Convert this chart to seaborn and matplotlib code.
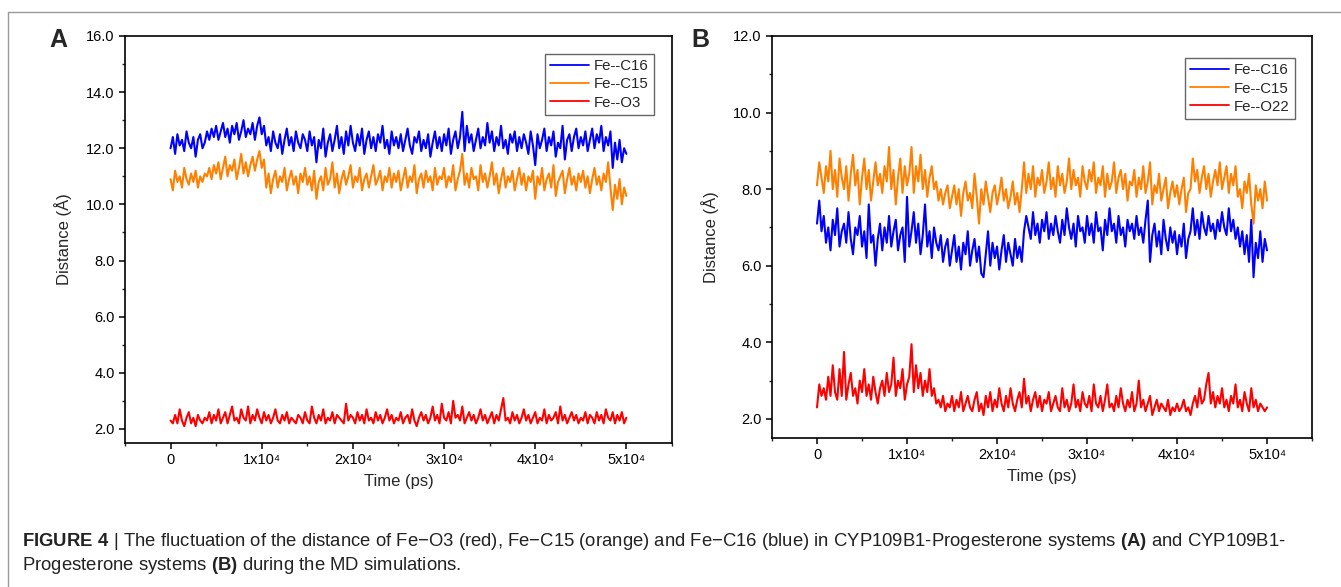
import numpy as np
import pandas as pd
import matplotlib
matplotlib.use("Agg")
import matplotlib.pyplot as plt
import seaborn as sns
from matplotlib.lines import Line2D
from matplotlib.ticker import MultipleLocator, FixedLocator, FixedFormatter, FormatStrFormatter

# sampled every 250 ps, 0 .. 50000 ps
time_ps = np.arange(0, 50001, 250)

a_fe_c16 = [
    12.0, 12.4, 11.8, 12.5, 12.1, 12.3, 11.9, 12.6, 12.2, 12.0, 12.4, 11.7, 12.3, 12.5, 12.0, 12.2, 12.6, 12.3, 12.7, 12.4,
    12.8, 12.3, 12.6, 12.9, 12.4, 12.7, 12.2, 12.8, 12.5, 12.9, 12.3, 12.6, 13.0, 12.4, 12.7, 12.5, 12.9, 12.3, 12.8, 13.1,
    12.5, 12.8, 12.1, 12.4, 11.9, 12.6, 12.2, 12.0, 12.5, 11.8, 12.3, 12.7, 12.1, 12.4, 11.9, 12.6, 12.2, 12.0, 12.5, 12.3,
    11.9, 12.6, 12.1, 12.4, 11.5, 12.3, 12.0, 12.7, 11.7, 12.2, 12.5, 11.9, 12.3, 12.8, 12.0, 12.4, 11.8, 12.6, 12.1, 12.8,
    12.2, 11.9, 12.5, 12.1, 12.7, 11.8, 12.3, 12.6, 12.0, 12.4, 11.9, 12.5, 12.2, 12.8, 12.0, 12.3, 11.8, 12.6, 12.1, 12.4,
    12.0, 12.5, 11.9, 12.3, 12.7, 12.1, 11.8, 12.4, 12.2, 12.6, 11.9, 12.3, 12.0, 12.5, 11.7, 12.2, 12.6, 12.0, 12.4, 11.9,
    12.5, 12.1, 12.7, 11.8, 12.3, 12.6, 12.0, 12.4, 13.3, 11.9, 12.8, 12.2, 12.5, 11.9, 12.3, 12.7, 12.0, 12.4, 12.1, 12.9,
    12.2, 12.6, 11.9, 12.4, 12.1, 12.8, 12.0, 12.3, 11.8, 12.5, 12.2, 12.6, 11.9, 12.4, 12.0, 12.5, 12.2, 11.8, 12.6, 12.1,
    11.4, 12.5, 12.0, 12.3, 12.7, 11.9, 12.4, 12.1, 12.6, 11.7, 12.2, 12.0, 12.8, 11.6, 12.3, 12.5, 11.9, 12.4, 12.7, 12.0,
    12.4, 12.1, 12.6, 11.9, 12.3, 12.7, 12.0, 12.5, 12.2, 12.8, 11.9, 12.4, 12.1, 12.6, 11.3, 12.2, 11.6, 12.3, 11.5, 12.0,
    11.8,
]
a_fe_c15 = [
    10.9, 10.5, 11.2, 10.8, 11.0, 10.6, 11.3, 10.9, 10.7, 11.1, 10.8, 11.2, 10.6, 11.0, 10.8, 11.1, 11.0, 11.3, 10.9, 11.4,
    11.1, 11.5, 10.9, 11.3, 11.7, 11.0, 11.4, 11.2, 11.6, 10.9, 11.3, 11.8, 11.1, 11.5, 11.0, 11.4, 11.7, 11.2, 11.6, 11.9,
    11.3, 11.6, 10.6, 11.1, 10.4, 10.9, 11.2, 10.6, 11.0, 10.8, 11.3, 10.5, 10.9, 11.2, 10.7, 11.0, 10.4, 11.1, 10.8, 11.3,
    10.7, 11.0, 10.5, 11.2, 10.2, 10.8, 11.0, 10.5, 11.3, 10.7, 10.9, 11.5, 10.6, 11.1, 10.4, 10.9, 11.2, 10.7, 11.0, 11.4,
    10.6, 11.0, 10.8, 11.3, 10.5, 10.9, 11.1, 10.6, 11.0, 11.4, 10.7, 10.9, 11.2, 10.5, 11.0, 10.8, 11.3, 10.6, 11.1, 10.8,
    11.2, 10.5, 10.9, 11.3, 10.6, 11.0, 10.8, 11.4, 10.4, 10.9, 11.1, 10.6, 11.2, 10.8, 11.0, 10.5, 11.3, 10.7, 11.0, 10.9,
    11.3, 10.6, 11.0, 10.8, 11.4, 10.5, 10.9, 11.2, 11.8, 10.7, 11.1, 10.6, 11.3, 10.9, 11.0, 10.5, 11.4, 10.8, 11.1, 10.6,
    11.0, 11.5, 10.7, 11.1, 10.4, 10.9, 11.3, 10.6, 11.0, 10.8, 11.2, 10.5, 10.9, 11.3, 10.7, 11.1, 10.5, 11.0, 10.8, 11.2,
    10.2, 11.0, 10.7, 11.3, 10.5, 10.9, 11.1, 10.6, 11.4, 10.3, 10.8, 11.0, 11.2, 10.4, 10.9, 11.3, 10.7, 11.0, 10.5, 11.1,
    10.8, 11.2, 10.6, 11.0, 10.4, 10.9, 11.3, 10.7, 11.0, 10.5, 11.1, 10.8, 11.5, 10.6, 9.8, 10.7, 10.2, 10.9, 10.0, 10.6,
    10.3,
]
a_fe_o3 = [
    2.3, 2.2, 2.5, 2.2, 2.7, 2.3, 2.1, 2.4, 2.6, 2.2, 2.4, 2.1, 2.5, 2.3, 2.2, 2.4, 2.3, 2.6, 2.2, 2.5,
    2.3, 2.7, 2.2, 2.4, 2.6, 2.2, 2.5, 2.8, 2.3, 2.4, 2.2, 2.7, 2.4, 2.3, 2.8, 2.2, 2.5, 2.3, 2.7, 2.4,
    2.2, 2.6, 2.3, 2.5, 2.2, 2.4, 2.7, 2.3, 2.2, 2.5, 2.3, 2.6, 2.2, 2.4, 2.3, 2.2, 2.5, 2.4, 2.2, 2.6,
    2.3, 2.2, 2.8, 2.4, 2.2, 2.5, 2.3, 2.7, 2.2, 2.4, 2.3, 2.6, 2.2, 2.5, 2.4, 2.3, 2.2, 2.9, 2.3, 2.5,
    2.4, 2.2, 2.6, 2.3, 2.5, 2.2, 2.7, 2.3, 2.4, 2.2, 2.6, 2.3, 2.5, 2.2, 2.4, 2.7, 2.3, 2.5, 2.2, 2.4,
    2.3, 2.6, 2.2, 2.4, 2.5, 2.2, 2.7, 2.3, 2.1, 2.4, 2.6, 2.3, 2.5, 2.2, 2.4, 2.8, 2.3, 2.5, 2.2, 2.9,
    2.4, 2.3, 2.6, 2.2, 3.0, 2.4, 2.5, 2.3, 2.8, 2.2, 2.4, 2.6, 2.3, 2.5, 2.2, 2.4, 2.7, 2.3, 2.5, 2.2,
    2.4, 2.6, 2.2, 2.5, 2.3, 2.7, 3.1, 2.3, 2.4, 2.2, 2.6, 2.3, 2.5, 2.2, 2.4, 2.7, 2.3, 2.5, 2.2, 2.4,
    2.6, 2.2, 2.4, 2.3, 2.7, 2.2, 2.5, 2.3, 2.4, 2.6, 2.2, 2.8, 2.3, 2.5, 2.2, 2.4, 2.6, 2.3, 2.5, 2.2,
    2.4, 2.3, 2.6, 2.2, 2.5, 2.4, 2.2, 2.6, 2.3, 2.5, 2.2, 2.7, 2.4, 2.3, 2.6, 2.2, 2.5, 2.3, 2.6, 2.2,
    2.4,
]

b_fe_c16 = [
    7.1, 7.7, 6.9, 7.3, 6.6, 7.0, 6.4, 7.2, 6.8, 7.5, 6.5, 6.9, 7.1, 6.6, 7.4, 6.7, 6.3, 7.0, 6.8, 7.3,
    6.5, 6.9, 6.2, 7.6, 6.6, 6.8, 6.0, 6.7, 7.1, 6.4, 7.0, 6.6, 7.3, 6.5, 6.9, 7.2, 6.4, 6.8, 7.0, 6.1,
    7.8, 6.5, 6.9, 7.4, 6.6, 7.1, 6.3, 6.8, 7.6, 6.5, 6.9, 6.2, 7.0, 6.6, 6.4, 6.8, 6.1, 6.5, 6.7, 6.0,
    6.4, 6.8, 6.1, 6.5, 5.9, 6.6, 6.3, 6.9, 6.0, 6.4, 6.7, 6.1, 6.5, 5.8, 5.7, 6.3, 6.9, 6.0, 6.6, 6.2,
    6.5, 5.9, 6.4, 6.8, 6.1, 6.6, 6.3, 6.0, 6.7, 6.2, 6.5, 6.1, 6.9, 7.3, 7.0, 6.7, 7.4, 6.8, 7.1, 6.6,
    7.2, 6.9, 7.4, 6.7, 7.1, 6.8, 7.3, 6.9, 6.6, 7.2, 6.8, 7.5, 7.0, 6.7, 7.1, 6.5, 7.3, 6.9, 7.0, 6.6,
    7.3, 6.8, 7.1, 6.6, 7.4, 6.9, 7.0, 6.4, 7.2, 6.8, 7.5, 6.9, 7.1, 6.6, 7.3, 6.8, 7.0, 6.5, 7.2, 6.9,
    7.1, 6.7, 7.3, 6.8, 7.0, 6.6, 7.2, 7.7, 6.1, 6.8, 7.1, 6.5, 6.9, 6.3, 7.2, 6.7, 6.4, 7.0, 6.6, 6.9,
    6.3, 6.8, 6.5, 7.1, 6.2, 6.7, 6.9, 7.5, 6.8, 7.2, 6.7, 7.4, 7.0, 6.8, 7.3, 6.9, 7.1, 6.7, 7.2, 6.9,
    7.4, 7.0, 6.8, 7.5, 6.9, 7.2, 6.7, 7.0, 6.5, 6.9, 6.3, 6.8, 6.1, 7.2, 5.7, 6.6, 6.2, 6.9, 6.1, 6.7,
    6.4,
]
b_fe_c15 = [
    8.1, 8.7, 8.3, 7.9, 8.6, 8.2, 9.0, 8.0, 8.5, 7.8, 8.8, 8.3, 8.0, 8.6, 7.7, 8.4, 8.9, 8.1, 8.5, 7.6,
    8.3, 8.8, 8.0, 8.5, 7.7, 8.2, 8.7, 8.1, 8.4, 7.9, 8.6, 8.2, 9.1, 8.0, 8.5, 7.6, 8.3, 8.8, 7.9, 8.6,
    8.1, 8.4, 9.1, 7.9, 8.6, 8.2, 8.9, 8.0, 8.5, 7.8, 8.3, 8.6, 8.0, 8.2, 7.7, 8.0, 7.6, 7.9, 8.1, 7.5,
    7.8, 8.1, 7.6, 8.0, 7.3, 7.9, 8.2, 7.7, 7.9, 7.5, 8.4, 7.8, 7.1, 8.0, 7.6, 8.2, 7.8, 7.4, 7.9, 8.1,
    7.6, 7.9, 8.3, 7.7, 8.0, 7.5, 7.8, 8.2, 7.6, 7.9, 7.4, 8.0, 8.7, 7.9, 8.4, 8.0, 8.6, 7.8, 8.3, 8.1,
    8.5, 7.9, 8.2, 8.7, 8.0, 8.3, 7.8, 8.6, 8.1, 8.4, 7.9, 8.2, 8.8, 8.0, 8.5, 8.1, 8.3, 7.8, 8.6, 8.2,
    8.0, 8.5, 8.2, 8.7, 7.9, 8.3, 8.1, 8.6, 7.8, 8.4, 8.0, 8.2, 8.7, 7.9, 8.3, 8.5, 8.0, 8.4, 7.7, 8.2,
    8.1, 8.5, 7.8, 8.3, 8.0, 8.6, 7.9, 8.2, 8.7, 7.6, 8.1, 7.9, 8.4, 7.7, 8.0, 8.3, 7.5, 7.9, 8.2, 7.8,
    8.1, 7.6, 8.0, 8.3, 7.4, 7.9, 8.0, 8.8, 8.2, 8.5, 7.9, 8.3, 8.6, 8.0, 8.4, 7.8, 8.2, 8.5, 8.1, 8.7,
    8.0, 8.3, 8.6, 7.9, 8.4, 8.1, 8.6, 7.8, 8.0, 7.5, 8.2, 7.9, 8.4, 7.6, 7.1, 8.1, 7.7, 8.0, 7.5, 8.2,
    7.7,
]
b_fe_o22 = [
    2.3, 2.9, 2.6, 2.8, 2.5, 3.1, 2.6, 3.4, 2.7, 2.5, 3.3, 2.6, 3.75, 2.5, 2.9, 3.2, 2.6, 2.8, 2.4, 3.0,
    2.7, 3.3, 2.6, 2.9, 2.5, 3.1, 2.7, 2.4, 2.8, 3.0, 2.6, 3.2, 2.7, 2.9, 3.6, 2.6, 3.0, 2.8, 3.3, 2.5,
    2.9, 3.1, 3.95, 2.7, 3.4, 2.8, 3.2, 2.6, 3.0, 2.7, 3.3, 2.6, 2.8, 2.4, 2.5, 2.3, 2.6, 2.2, 2.4, 2.3,
    2.6, 2.2, 2.5, 2.3, 2.7, 2.2, 2.4, 2.6, 2.3, 2.2, 2.5, 2.7, 2.2, 2.4, 2.1, 2.6, 2.3, 2.7, 2.2, 2.5,
    2.3, 2.8, 2.4, 2.2, 2.6, 2.3, 2.8, 2.4, 2.2, 2.5, 2.7, 2.3, 3.05, 2.4, 2.6, 2.2, 2.5, 2.7, 2.3, 2.6,
    2.2, 2.5, 2.4, 2.7, 2.2, 2.4, 2.6, 2.3, 2.2, 2.8, 2.3, 2.5, 2.2, 2.4, 2.9, 2.3, 2.5, 2.2, 2.7, 2.4,
    2.3, 2.6, 2.2, 2.9, 2.4, 2.3, 2.6, 2.2, 2.5, 2.9, 2.3, 2.4, 2.2, 2.6, 2.3, 2.8, 2.4, 2.2, 2.5, 2.3,
    2.7, 2.2, 2.4, 3.0, 2.3, 2.5, 2.2, 2.4, 2.6, 2.1, 2.3, 2.5, 2.2, 2.4, 2.3, 2.2, 2.5, 2.1, 2.3, 2.2,
    2.4, 2.2, 2.3, 2.5, 2.2, 2.3, 2.1, 2.4, 2.6, 2.3, 2.8, 2.4, 2.5, 2.9, 3.2, 2.4, 2.7, 2.3, 2.6, 2.4,
    2.8, 2.3, 2.5, 2.2, 2.6, 2.4, 2.9, 2.3, 2.5, 2.2, 2.7, 2.4, 2.2, 2.8, 2.3, 2.5, 2.2, 2.4, 2.3, 2.2,
    2.3,
]

x_ticks = [0, 10000, 20000, 30000, 40000, 50000]
x_tick_labels = ["0", "1x10\u2074", "2x10\u2074", "3x10\u2074", "4x10\u2074", "5x10\u2074"]
labels_a = ["Fe--C16", "Fe--C15", "Fe--O3"]
labels_b = ["Fe--C16", "Fe--C15", "Fe--O22"]
colors = ["#0000ff", "#ff8000", "#ff0000"]

caption_line1 = (r"$\mathbf{FIGURE\ 4}$" +
                 " | The fluctuation of the distance of Fe\u2212O3 (red), "
                 "Fe\u2212C15 (orange) and Fe\u2212C16 (blue) in CYP109B1-Progesterone systems " +
                 r"$\mathbf{(A)}$" + " and CYP109B1-")
caption_line2 = "Progesterone systems " + r"$\mathbf{(B)}$" + " during the MD simulations."

sns.set_style("ticks")
plt.rcParams["font.family"] = ["Liberation Sans", "DejaVu Sans"]
plt.rcParams["mathtext.fontset"] = "custom"
plt.rcParams["mathtext.rm"] = "Liberation Sans"
plt.rcParams["mathtext.bf"] = "Liberation Sans:bold"

fig = plt.figure(figsize=(13.41, 5.87), dpi=100)
ax_a = fig.add_axes([0.0932, 0.2453, 0.4079, 0.6934])
ax_b = fig.add_axes([0.5757, 0.2538, 0.4027, 0.6849])


def draw_panel(ax, series, labels, ylim, legend_anchor):
    df = pd.DataFrame({"time": np.tile(time_ps, 3),
                       "dist": np.concatenate(series),
                       "pair": np.repeat(labels, len(time_ps))})
    sns.lineplot(data=df, x="time", y="dist", hue="pair", hue_order=labels,
                 palette=dict(zip(labels, colors)), linewidth=1.5, ax=ax)
    leg = ax.get_legend()
    handles = leg.legend_handles
    leg.remove()
    for h in handles:
        h.set_linewidth(1.3)
    ax.legend(handles, labels, loc="upper right", bbox_to_anchor=legend_anchor,
              borderaxespad=0, fancybox=False, framealpha=1, edgecolor="#666666",
              fontsize=10.8, handlelength=2.6, handletextpad=0.3, borderpad=0.35,
              labelspacing=0.28)
    ax.set_xlim(-5000, 55000)
    ax.set_ylim(*ylim)
    ax.xaxis.set_major_locator(FixedLocator(x_ticks))
    ax.xaxis.set_major_formatter(FixedFormatter(x_tick_labels))
    ax.xaxis.set_minor_locator(MultipleLocator(5000))
    ax.yaxis.set_major_locator(MultipleLocator(2.0))
    ax.yaxis.set_minor_locator(MultipleLocator(1.0))
    ax.yaxis.set_major_formatter(FormatStrFormatter("%.1f"))
    ax.tick_params(which="major", direction="out", length=4.5, width=1.1,
                   labelsize=10.5, colors="black", pad=3)
    ax.tick_params(which="minor", direction="out", length=2.5, width=1.0)
    for s in ax.spines.values():
        s.set_color("black")
        s.set_linewidth(1.2)
    ax.set_xlabel("Time (ps)", fontsize=12, labelpad=5)
    ax.set_ylabel("Distance (\u00c5)", fontsize=12, labelpad=10)


draw_panel(ax_a, [a_fe_c16, a_fe_c15, a_fe_o3], labels_a, (1.5, 16.0), (0.967, 0.956))
draw_panel(ax_b, [b_fe_c16, b_fe_c15, b_fe_o22], labels_b, (1.5, 12.0), (0.968, 0.945))

fig.text(58 / 1341, 1 - 40 / 587, "A", fontsize=18, fontweight="bold", ha="center", va="center")
fig.text(700 / 1341, 1 - 40 / 587, "B", fontsize=18, fontweight="bold", ha="center", va="center")

# thin frame around the figure area
fig.add_artist(Line2D([8 / 1341, 1.0], [1 - 12 / 587, 1 - 12 / 587], transform=fig.transFigure,
                      color="#999999", linewidth=1.0))
fig.add_artist(Line2D([8 / 1341, 8 / 1341], [0.0, 1 - 12 / 587], transform=fig.transFigure,
                      color="#999999", linewidth=1.0))

# caption, sized so the first line spans the same width as in the figure
renderer = fig.canvas.get_renderer()
cap1 = fig.text(22 / 1341, 1 - 541 / 587, caption_line1, fontsize=10, ha="left", va="center",
                color="#222222")
cap_size = min(10 * 1266 / cap1.get_window_extent(renderer).width, 13.5)
cap1.set_fontsize(cap_size)
fig.text(22 / 1341, 1 - 566 / 587, caption_line2, fontsize=cap_size, ha="left", va="center",
         color="#222222")

fig.savefig("out.png", dpi=100)
